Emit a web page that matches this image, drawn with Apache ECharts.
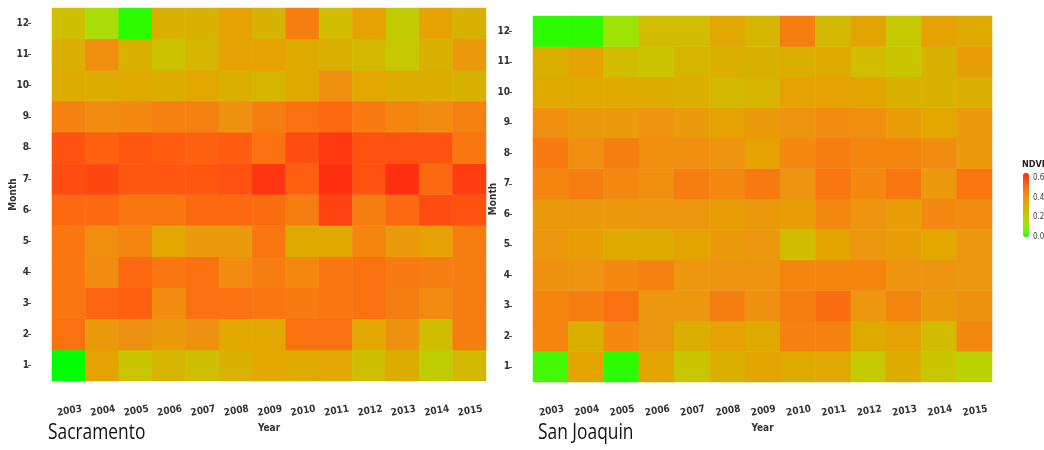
<!DOCTYPE html>
<html>
<head>
<meta charset="utf-8">
<title>NDVI by month and year</title>
<script src="https://cdn.jsdelivr.net/npm/echarts@6/dist/echarts.min.js"></script>
<style>
  html, body { margin: 0; padding: 0; background: #ffffff; }
  #chart { width: 1044px; height: 450px; }
</style>
</head>
<body>
<div id="chart"></div>
<script>
// Monthly NDVI, 2003-2015, for two counties.
const years = ['2003', '2004', '2005', '2006', '2007', '2008', '2009', '2010', '2011', '2012', '2013', '2014', '2015'];
const months = ['1', '2', '3', '4', '5', '6', '7', '8', '9', '10', '11', '12'];
const legendTicks = [0.0, 0.2, 0.4, 0.6];
const ndviMin = 0;
const ndviMax = 0.65;

// Rows: month 1..12; columns: 2003..2015
const sacramento = [
  [0.00, 0.36, 0.24, 0.29, 0.26, 0.30, 0.34, 0.33, 0.34, 0.26, 0.32, 0.21, 0.28],
  [0.50, 0.38, 0.41, 0.38, 0.41, 0.34, 0.34, 0.50, 0.50, 0.34, 0.41, 0.27, 0.47],
  [0.49, 0.53, 0.54, 0.43, 0.50, 0.50, 0.49, 0.48, 0.49, 0.50, 0.47, 0.43, 0.47],
  [0.49, 0.43, 0.52, 0.49, 0.50, 0.43, 0.47, 0.44, 0.49, 0.50, 0.48, 0.47, 0.47],
  [0.49, 0.42, 0.45, 0.34, 0.38, 0.38, 0.49, 0.33, 0.34, 0.45, 0.38, 0.36, 0.47],
  [0.52, 0.52, 0.49, 0.49, 0.52, 0.52, 0.51, 0.47, 0.60, 0.47, 0.52, 0.58, 0.57],
  [0.58, 0.59, 0.56, 0.56, 0.56, 0.57, 0.63, 0.54, 0.64, 0.57, 0.64, 0.52, 0.61],
  [0.57, 0.54, 0.56, 0.55, 0.54, 0.55, 0.50, 0.58, 0.62, 0.57, 0.57, 0.57, 0.49],
  [0.46, 0.43, 0.44, 0.46, 0.46, 0.41, 0.47, 0.50, 0.52, 0.48, 0.45, 0.43, 0.46],
  [0.32, 0.32, 0.33, 0.32, 0.34, 0.31, 0.29, 0.33, 0.42, 0.34, 0.32, 0.32, 0.30],
  [0.31, 0.42, 0.30, 0.25, 0.29, 0.36, 0.36, 0.33, 0.31, 0.28, 0.23, 0.30, 0.38],
  [0.26, 0.15, 0.02, 0.30, 0.30, 0.36, 0.30, 0.47, 0.27, 0.36, 0.22, 0.36, 0.30]
];

const sanJoaquin = [
  [0.03, 0.35, 0.02, 0.35, 0.24, 0.31, 0.35, 0.33, 0.34, 0.23, 0.32, 0.24, 0.19],
  [0.45, 0.31, 0.44, 0.39, 0.31, 0.36, 0.33, 0.46, 0.46, 0.33, 0.36, 0.27, 0.44],
  [0.45, 0.47, 0.50, 0.39, 0.39, 0.47, 0.41, 0.47, 0.51, 0.39, 0.45, 0.38, 0.41],
  [0.41, 0.40, 0.44, 0.46, 0.39, 0.40, 0.40, 0.45, 0.45, 0.45, 0.40, 0.40, 0.39],
  [0.39, 0.37, 0.33, 0.33, 0.35, 0.38, 0.39, 0.27, 0.35, 0.39, 0.37, 0.34, 0.39],
  [0.38, 0.38, 0.38, 0.39, 0.39, 0.37, 0.38, 0.37, 0.44, 0.40, 0.37, 0.44, 0.43],
  [0.45, 0.47, 0.44, 0.42, 0.47, 0.44, 0.48, 0.40, 0.49, 0.44, 0.49, 0.38, 0.49],
  [0.48, 0.42, 0.47, 0.42, 0.42, 0.40, 0.36, 0.44, 0.47, 0.45, 0.45, 0.43, 0.38],
  [0.42, 0.38, 0.38, 0.40, 0.38, 0.36, 0.38, 0.40, 0.43, 0.42, 0.37, 0.34, 0.38],
  [0.33, 0.33, 0.33, 0.32, 0.31, 0.28, 0.29, 0.36, 0.36, 0.35, 0.30, 0.30, 0.31],
  [0.31, 0.36, 0.27, 0.24, 0.29, 0.31, 0.30, 0.31, 0.33, 0.27, 0.24, 0.30, 0.37],
  [0.02, 0.02, 0.12, 0.27, 0.27, 0.34, 0.29, 0.47, 0.28, 0.35, 0.23, 0.36, 0.33]
];

// Green -> yellow -> orange -> red ramp, evenly spaced from ndviMin to ndviMax
const ramp = ['#00ff00', '#70f400', '#92e800', '#aadc08', '#bcd000', '#ccc200', '#d8b200',
              '#e4a400', '#ee9410', '#f48610', '#fa7210', '#ff5c10', '#ff4210', '#ff2a10'];

function toCells(table) {
  const out = [];
  table.forEach((row, m) => row.forEach((v, y) => out.push([y, m, v])));
  return out;
}

const narrow = '"Liberation Sans Narrow", "DejaVu Sans Condensed", "Roboto Condensed", "Liberation Sans", sans-serif';
const tickColor = '#555555';

function xAxisFor(gridIndex, offset) {
  return {
    type: 'category', gridIndex, data: years, offset,
    axisLine: { show: false },
    axisTick: { show: false },
    splitLine: { show: false },
    axisLabel: { rotate: 10, margin: 6, fontSize: 10, fontWeight: 'bold', color: '#333',
                 fontFamily: narrow, align: 'center', verticalAlign: 'top', interval: 0 },
    name: 'Year', nameLocation: 'middle', nameGap: 23, nameMoveOverlap: false,
    nameTextStyle: { fontSize: 10, fontWeight: 'bold', color: '#333', fontFamily: narrow }
  };
}

function yAxisFor(gridIndex, offset, gap) {
  return {
    type: 'category', gridIndex, data: months, offset,
    axisLine: { show: false },
    axisTick: { show: true, length: 3, alignWithLabel: true, lineStyle: { color: tickColor } },
    splitLine: { show: false },
    axisLabel: { margin: 2, fontSize: 10, fontWeight: 'bold', color: '#333', fontFamily: narrow, interval: 0 },
    name: 'Month', nameLocation: 'middle', nameRotate: 90, nameGap: gap, nameMoveOverlap: false,
    nameTextStyle: { fontSize: 10, fontWeight: 'bold', color: '#333', fontFamily: narrow }
  };
}

const legendTop = 173, legendLen = 64, legendLeft = 1023, legendW = 6;

const graphics = [
  { type: 'text', x: 48, y: 422, scaleX: 0.79,
    style: { text: 'Sacramento', font: '22px "Open Sans", "Noto Sans", sans-serif', fill: '#111' } },
  { type: 'text', x: 538, y: 422, scaleX: 0.79,
    style: { text: 'San Joaquin', font: '22px "Open Sans", "Noto Sans", sans-serif', fill: '#111' } },
  { type: 'text', x: legendLeft - 1, y: 160,
    style: { text: 'NDVI', font: 'bold 9px ' + narrow, fill: '#222' } }
];
legendTicks.forEach(v => {
  graphics.push({
    type: 'text', x: legendLeft + legendW + 4,
    y: legendTop + (ndviMax - v) / (ndviMax - ndviMin) * legendLen,
    style: { text: v.toFixed(1), font: '8px ' + narrow, fill: '#444', verticalAlign: 'middle' }
  });
});

const chart = echarts.init(document.getElementById('chart'), null, { renderer: 'canvas' });
chart.setOption({
  backgroundColor: '#ffffff',
  animation: false,
  grid: [
    { left: 52, top: 8, width: 434, height: 373 },
    { left: 533, top: 16, width: 459, height: 366 }
  ],
  xAxis: [xAxisFor(0, 19), xAxisFor(1, 18)],
  yAxis: [yAxisFor(0, 21, 13), yAxisFor(1, 21, 14)],
  visualMap: {
    type: 'continuous', min: ndviMin, max: ndviMax, seriesIndex: [0, 1],
    orient: 'vertical', left: legendLeft, top: legendTop, padding: 0,
    itemWidth: legendW, itemHeight: legendLen, calculable: false, text: null,
    showLabel: false, hoverLink: false,
    inRange: { color: ramp }
  },
  graphic: graphics,
  series: [
    { type: 'heatmap', name: 'Sacramento', xAxisIndex: 0, yAxisIndex: 0,
      data: toCells(sacramento), itemStyle: { borderWidth: 0 }, emphasis: { disabled: true } },
    { type: 'heatmap', name: 'San Joaquin', xAxisIndex: 1, yAxisIndex: 1,
      data: toCells(sanJoaquin), itemStyle: { borderWidth: 0 }, emphasis: { disabled: true } }
  ]
});
</script>
</body>
</html>
